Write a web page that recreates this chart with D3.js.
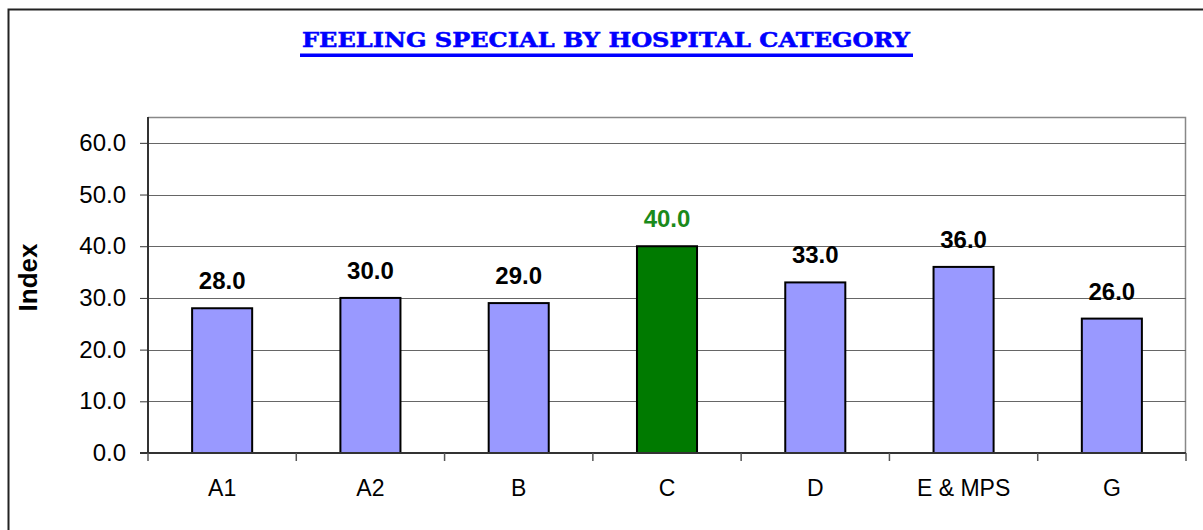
<!DOCTYPE html>
<html>
<head>
<meta charset="utf-8">
<script src="https://cdn.jsdelivr.net/npm/d3@7"></script>
<style>
  body { margin: 0; background: #fff; }
  svg { display: block; }
</style>
</head>
<body>
<div id="chart"></div>
<script>
const categories = ['A1', 'A2', 'B', 'C', 'D', 'E & MPS', 'G'];
const values = [28.0, 30.0, 29.0, 40.0, 33.0, 36.0, 26.0];
const highlight = 'C';
const yTicks = [0, 10, 20, 30, 40, 50, 60];

const width = 1203, height = 530;
const margin = { top: 117, right: 17, bottom: 77, left: 148 };
const innerW = width - margin.left - margin.right;
const innerH = height - margin.top - margin.bottom;

const svg = d3.select('#chart').append('svg')
    .attr('width', width)
    .attr('height', height);

// outer frame (bottom/right run off the page)
svg.append('path')
    .attr('d', `M8.5,${height + 5} V9.5 H${width + 5}`)
    .attr('fill', 'none')
    .attr('stroke', '#222')
    .attr('stroke-width', 2);

// title, stretched wide like the original; underline drawn by hand
svg.append('text')
    .attr('x', 302)
    .attr('y', 47)
    .attr('font-family', '"DejaVu Serif", serif')
    .attr('font-weight', 'bold')
    .attr('font-size', 19.5)
    .attr('fill', '#0000ff')
    .attr('stroke', '#0000ff')
    .attr('stroke-width', 0.5)
    .attr('textLength', 608)
    .attr('lengthAdjust', 'spacingAndGlyphs')
    .text('FEELING SPECIAL BY HOSPITAL CATEGORY');
svg.append('rect')
    .attr('x', 300).attr('y', 53.5)
    .attr('width', 613).attr('height', 3.5)
    .attr('fill', '#0000ff');

const plot = svg.append('g')
    .attr('transform', `translate(${margin.left},${margin.top})`);

const x = d3.scaleBand()
    .domain(categories)
    .range([0, innerW])
    .paddingInner(0.595)
    .paddingOuter(0.2975);

const xTick = d3.scaleBand().domain(categories).range([0, innerW]);

const y = d3.scaleLinear()
    .domain([0, 65])
    .range([innerH, 0]);

// plot area frame
plot.append('path')
    .attr('d', `M0,0.5 H${innerW - 0.5} V${innerH}`)
    .attr('fill', 'none')
    .attr('stroke', '#888')
    .attr('stroke-width', 1.5);

// gridlines
plot.append('g')
    .selectAll('line')
    .data(yTicks.filter(d => d > 0))
    .enter()
    .append('line')
    .attr('x1', 0)
    .attr('x2', innerW)
    .attr('y1', d => Math.round(y(d)) + 0.5)
    .attr('y2', d => Math.round(y(d)) + 0.5)
    .attr('stroke', '#666')
    .attr('stroke-width', 1);

const data = categories.map((c, i) => ({ c, v: values[i] }));

plot.selectAll('rect.bar')
    .data(data)
    .enter()
    .append('rect')
    .attr('class', 'bar')
    .attr('x', d => x(d.c))
    .attr('y', d => y(d.v))
    .attr('width', x.bandwidth())
    .attr('height', d => innerH - y(d.v))
    .attr('fill', d => d.c === highlight ? '#007a00' : '#9999ff')
    .attr('stroke', '#000')
    .attr('stroke-width', 2);

plot.selectAll('text.val')
    .data(data)
    .enter()
    .append('text')
    .attr('class', 'val')
    .attr('x', d => x(d.c) + x.bandwidth() / 2)
    .attr('y', d => y(d.v) - 19)
    .attr('text-anchor', 'middle')
    .attr('font-family', 'Arial, "Liberation Sans", sans-serif')
    .attr('font-weight', 'bold')
    .attr('font-size', 24)
    .attr('fill', d => d.c === highlight ? '#1a8a1a' : '#000')
    .text(d => d.v.toFixed(1));

// y axis
const yAxis = plot.append('g')
    .call(d3.axisLeft(y).tickValues(yTicks).tickSize(8).tickPadding(14).tickFormat(d3.format('.1f')));
yAxis.select('.domain').attr('stroke', '#333').attr('stroke-width', 2).attr('d', `M0,0V${innerH}`);
yAxis.selectAll('.tick line').attr('stroke', '#333');
yAxis.selectAll('text')
    .attr('font-family', 'Arial, "Liberation Sans", sans-serif')
    .attr('font-size', 24)
    .attr('fill', '#000');

// x axis
const xAxis = plot.append('g')
    .attr('transform', `translate(0,${innerH})`)
    .call(d3.axisBottom(xTick).tickSize(0).tickPadding(27));
xAxis.select('.domain').attr('stroke', '#333').attr('stroke-width', 2).attr('d', `M-8,0H${innerW}`);
xAxis.selectAll('text')
    .attr('font-family', 'Arial, "Liberation Sans", sans-serif')
    .attr('font-size', 23)
    .attr('fill', '#000');

// category separator ticks
plot.append('g')
    .selectAll('line')
    .data(d3.range(categories.length + 1))
    .enter()
    .append('line')
    .attr('x1', i => i * xTick.step())
    .attr('x2', i => i * xTick.step())
    .attr('y1', innerH)
    .attr('y2', innerH + 8)
    .attr('stroke', '#555')
    .attr('stroke-width', 1.5);

svg.append('text')
    .attr('transform', 'translate(37, 277.5) rotate(-90)')
    .attr('text-anchor', 'middle')
    .attr('font-family', 'Arial, "Liberation Sans", sans-serif')
    .attr('font-weight', 'bold')
    .attr('font-size', 26)
    .attr('fill', '#000')
    .text('Index');
</script>
</body>
</html>
